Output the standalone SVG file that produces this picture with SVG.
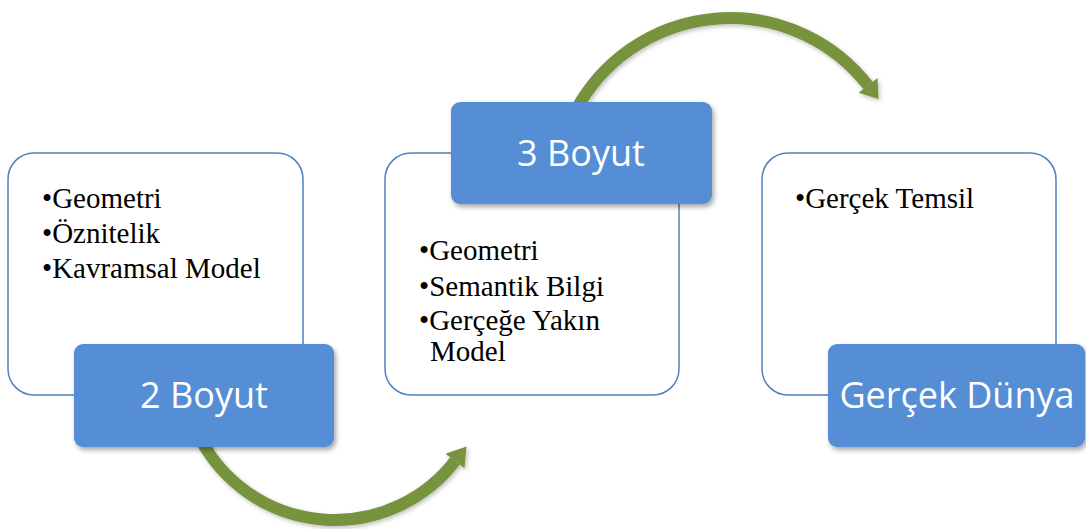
<svg xmlns="http://www.w3.org/2000/svg" width="1086" height="529" viewBox="0 0 1086 529">
  <defs>
    <filter id="shadow" x="-10%" y="-10%" width="130%" height="140%">
      <feDropShadow dx="2" dy="3" stdDeviation="2.5" flood-color="#000" flood-opacity="0.35"/>
    </filter>
    <filter id="arrowShadow" x="-10%" y="-10%" width="130%" height="140%">
      <feDropShadow dx="1.5" dy="2" stdDeviation="2" flood-color="#000" flood-opacity="0.25"/>
    </filter>
  </defs>
  <style>
    .card { fill: #ffffff; stroke: #4f81bd; stroke-width: 1.5; }
    .tab { fill: #558ed5; filter: url(#shadow); }
    .tab-label { font-family: 'Open Sans', 'Liberation Sans', sans-serif; font-size: 36px; fill: #ffffff; text-anchor: middle; }
    .item { font-family: 'Liberation Serif', 'DejaVu Serif', serif; font-size: 29px; fill: #000000; }
    .shaft { fill: none; stroke: #77933c; stroke-width: 12; }
    .head { fill: #77933c; }
  </style>
  <rect width="1086" height="529" fill="#ffffff"/>

  <!-- curved connectors between stages -->
  <g id="connectors" filter="url(#arrowShadow)">
    <g id="arrow-2d-3d">
      <path class="shaft" d="M 201 440 A 152 152 0 0 0 455 461"/>
      <polygon class="head" points="445.5,453.7 464.5,468.3 466.5,446.5"/>
    </g>
    <g id="arrow-3d-real">
      <path class="shaft" d="M 576 110 A 175 175 0 0 1 868 85.4"/>
      <polygon class="head" points="858.5,92.8 877.5,78 878.5,99"/>
    </g>
  </g>

  <!-- stage 1: 2D -->
  <g id="node-2d">
    <rect class="card" x="8" y="153" width="295" height="242" rx="26"/>
    <text class="item" x="42" y="208">•Geometri</text>
    <text class="item" x="42" y="243">•Öznitelik</text>
    <text class="item" x="42" y="278">•Kavramsal Model</text>
    <rect class="tab" x="74" y="344" width="260" height="103" rx="9"/>
    <text class="tab-label" x="204" y="408">2 Boyut</text>
  </g>

  <!-- stage 2: 3D -->
  <g id="node-3d">
    <rect class="card" x="385" y="153" width="294" height="242" rx="26"/>
    <text class="item" x="419" y="260">•Geometri</text>
    <text class="item" x="419" y="296">•Semantik Bilgi</text>
    <text class="item" x="419" y="330">•Gerçeğe Yakın</text>
    <text class="item" x="430" y="361">Model</text>
    <rect class="tab" x="451" y="102" width="261" height="102" rx="9"/>
    <text class="tab-label" x="581" y="166">3 Boyut</text>
  </g>

  <!-- stage 3: real world -->
  <g id="node-real">
    <rect class="card" x="762" y="153" width="294" height="242" rx="26"/>
    <text class="item" x="795" y="208">•Gerçek Temsil</text>
    <rect class="tab" x="828" y="344" width="257" height="103" rx="9"/>
    <text class="tab-label" x="957" y="408">Gerçek Dünya</text>
  </g>
</svg>
